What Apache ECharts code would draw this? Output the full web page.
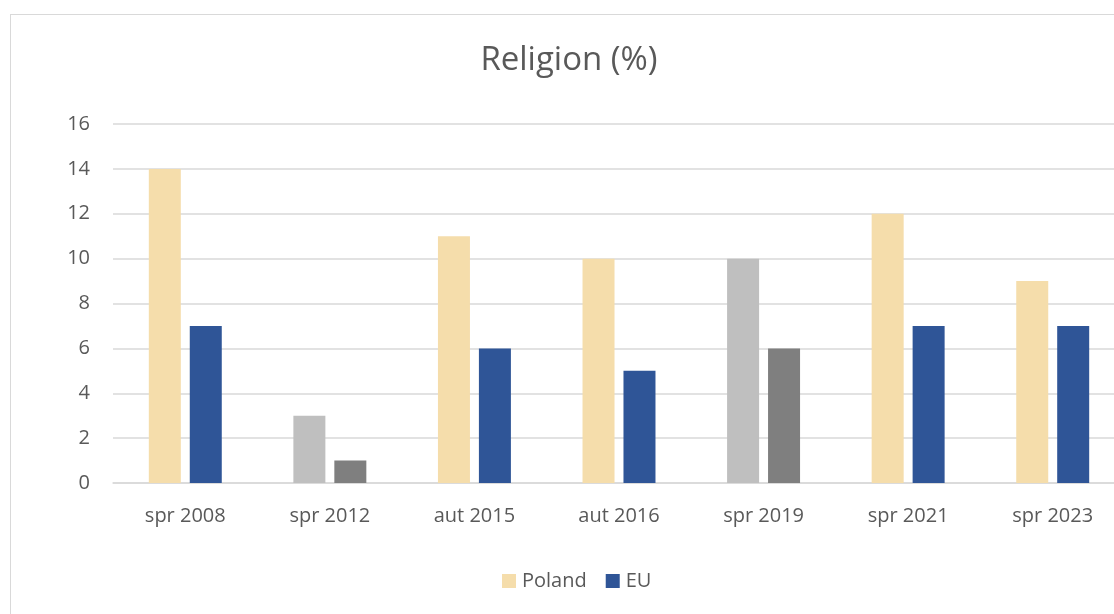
<!DOCTYPE html>
<html>
<head>
<meta charset="utf-8">
<script src="https://cdn.jsdelivr.net/npm/echarts@6/dist/echarts.min.js"></script>
<style>
  html, body { margin: 0; padding: 0; background: #fff; }
  .frame {
    position: absolute; left: 10px; top: 14px; width: 1120px; height: 620px;
    border: 1px solid #d9d9d9; box-sizing: border-box;
  }
  #chart { position: absolute; left: 0; top: 0; width: 1114px; height: 614px; }
</style>
</head>
<body>
<div class="frame"></div>
<div id="chart"></div>
<script>
// survey waves
var categories = ['spr 2008', 'spr 2012', 'aut 2015', 'aut 2016', 'spr 2019', 'spr 2021', 'spr 2023'];
var poland = [14, 3, 11, 10, 10, 12, 9];
var eu = [7, 1, 6, 5, 6, 7, 7];
// waves shown greyed out
var greyed = ['spr 2012', 'spr 2019'];
var yTicks = [0, 2, 4, 6, 8, 10, 12, 14, 16];

var polandColor = '#f5ddab';
var euColor = '#2f5597';

function withGrey(values, normal, grey) {
  return values.map(function (v, i) {
    return {
      value: v,
      itemStyle: { color: greyed.indexOf(categories[i]) >= 0 ? grey : normal },
    };
  });
}

var chart = echarts.init(document.getElementById('chart'));
chart.setOption({
  animation: false,
  textStyle: { fontFamily: 'Open Sans, Noto Sans, sans-serif' },
  title: {
    text: 'Religion (%)',
    left: 564,
    textAlign: 'center',
    top: 39,
    textStyle: { fontSize: 33, fontWeight: 'normal', color: '#595959' },
  },
  legend: {
    bottom: 18,
    left: 497,
    itemWidth: 14,
    itemHeight: 14,
    itemGap: 19,
    icon: 'rect',
    textStyle: { fontSize: 20, color: '#595959', padding: [0, 0, 0, 1] },
    data: [
      { name: 'Poland', itemStyle: { color: polandColor } },
      { name: 'EU', itemStyle: { color: euColor } },
    ],
  },
  grid: {
    left: 113,
    right: -11,
    top: 124,
    bottom: 131,
    outerBoundsMode: 'none',
  },
  xAxis: {
    type: 'category',
    data: categories,
    axisTick: { show: false },
    axisLine: { lineStyle: { color: '#d9d9d9', width: 1.5 } },
    axisLabel: { fontSize: 20, color: '#595959', margin: 23 },
  },
  yAxis: {
    type: 'value',
    min: yTicks[0],
    max: yTicks[yTicks.length - 1],
    interval: 2,
    axisLine: { show: false },
    axisTick: { show: false },
    axisLabel: { fontSize: 20, color: '#595959', margin: 23 },
    splitLine: { lineStyle: { color: '#d9d9d9', width: 1.5 } },
  },
  series: [
    {
      name: 'Poland',
      type: 'bar',
      barWidth: 32,
      barGap: '28%',
      itemStyle: { color: polandColor },
      data: withGrey(poland, polandColor, '#bfbfbf'),
    },
    {
      name: 'EU',
      type: 'bar',
      barWidth: 32,
      barGap: '28%',
      itemStyle: { color: euColor },
      data: withGrey(eu, euColor, '#7f7f7f'),
    },
  ],
});
</script>
</body>
</html>
